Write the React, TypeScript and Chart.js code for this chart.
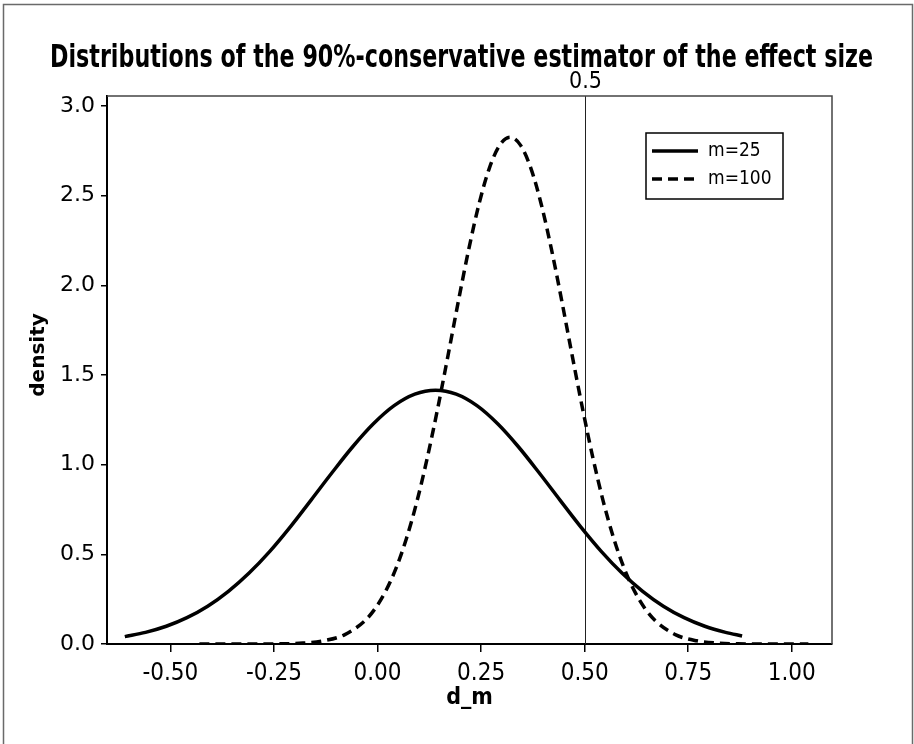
import React, { useEffect, useRef } from 'react';
import { Chart, registerables } from 'chart.js';

Chart.register(...registerables);

const titleText = 'Distributions of the 90%-conservative estimator of the effect size';
const xAxisLabel = 'd_m';
const yAxisLabel = 'density';
const seriesNames = ['m=25', 'm=100'];
const xTickValues = [-0.5, -0.25, 0, 0.25, 0.5, 0.75, 1.0];
const yTickValues = [0, 0.5, 1, 1.5, 2, 2.5, 3];
const refLineX = 0.5;
const refLineLabel = '0.5';

const m25X = [-0.61, -0.56, -0.51, -0.46, -0.41, -0.36, -0.31, -0.26, -0.21, -0.16, -0.11, -0.06, -0.01, 0.04, 0.09, 0.14, 0.19, 0.24, 0.29, 0.34, 0.39, 0.44, 0.49, 0.54, 0.59, 0.64, 0.69, 0.74, 0.79, 0.84, 0.88];
const m25Y = [0.041, 0.065, 0.099, 0.147, 0.211, 0.294, 0.396, 0.517, 0.655, 0.804, 0.955, 1.1, 1.228, 1.329, 1.393, 1.415, 1.393, 1.329, 1.228, 1.1, 0.955, 0.804, 0.655, 0.517, 0.396, 0.294, 0.211, 0.147, 0.099, 0.065, 0.045];

const m100X = [-0.43, -0.33, -0.23, -0.18, -0.13, -0.08, -0.03, -0.005, 0.02, 0.045, 0.07, 0.095, 0.12, 0.145, 0.17, 0.195, 0.22, 0.245, 0.27, 0.295, 0.32, 0.345, 0.37, 0.395, 0.42, 0.445, 0.47, 0.495, 0.52, 0.545, 0.57, 0.595, 0.62, 0.645, 0.67, 0.72, 0.77, 0.82, 0.87, 0.97, 1.04];
const m100Y = [0, 0, 0.001, 0.005, 0.018, 0.051, 0.131, 0.2, 0.296, 0.424, 0.59, 0.794, 1.037, 1.311, 1.607, 1.91, 2.199, 2.454, 2.654, 2.782, 2.826, 2.782, 2.654, 2.454, 2.199, 1.91, 1.607, 1.311, 1.037, 0.794, 0.59, 0.424, 0.296, 0.2, 0.131, 0.051, 0.018, 0.005, 0.001, 0, 0];

const X_MIN = -0.653;
const X_MAX = 1.097;
const Y_MIN = 0;
const Y_MAX = 3.056;

const NARROW = '"Liberation Sans Narrow", "DejaVu Sans Condensed", sans-serif';
const WIDE = '"DejaVu Sans", sans-serif';

const decorPlugin = {
  id: 'decor',
  beforeDatasetsDraw(chart: any) {
    const { ctx, chartArea, scales } = chart;
    const xs = scales.x;
    ctx.save();
    const px = Math.round(xs.getPixelForValue(refLineX)) + 0.5;
    ctx.strokeStyle = '#222';
    ctx.lineWidth = 1;
    ctx.beginPath();
    ctx.moveTo(px, chartArea.top);
    ctx.lineTo(px, chartArea.bottom);
    ctx.stroke();
    ctx.fillStyle = '#000';
    ctx.font = `23px ${NARROW}`;
    ctx.textAlign = 'center';
    ctx.textBaseline = 'alphabetic';
    ctx.fillText(refLineLabel, px, 88);
    ctx.strokeStyle = '#444';
    ctx.lineWidth = 1.5;
    ctx.beginPath();
    ctx.moveTo(chartArea.left, chartArea.top);
    ctx.lineTo(chartArea.right, chartArea.top);
    ctx.lineTo(chartArea.right, chartArea.bottom);
    ctx.stroke();
    ctx.restore();
  },
  afterDraw(chart: any) {
    const { ctx, chartArea, width } = chart;
    ctx.save();
    ctx.strokeStyle = '#6a6a6a';
    ctx.lineWidth = 1.5;
    ctx.beginPath();
    ctx.moveTo(3.5, chart.height);
    ctx.lineTo(3.5, 4.5);
    ctx.lineTo(width - 1.5, 4.5);
    ctx.lineTo(width - 1.5, chart.height);
    ctx.stroke();

    ctx.fillStyle = '#000';
    ctx.font = `bold 32px ${NARROW}`;
    ctx.textAlign = 'center';
    ctx.textBaseline = 'alphabetic';
    const w = ctx.measureText(titleText).width;
    const target = 823;
    ctx.save();
    ctx.translate(461.5, 67);
    ctx.scale(target / w, 1);
    ctx.fillText(titleText, 0, 0);
    ctx.restore();

    ctx.font = `bold 23px ${NARROW}`;
    ctx.textAlign = 'center';
    ctx.textBaseline = 'middle';
    ctx.fillText(xAxisLabel, (chartArea.left + chartArea.right) / 2, 698);

    ctx.save();
    ctx.translate(39, 355);
    ctx.rotate(-Math.PI / 2);
    ctx.font = `bold 20px ${WIDE}`;
    ctx.fillText(yAxisLabel, 0, 0);
    ctx.restore();

    const bx = 646, by = 133, bw = 137, bh = 66;
    ctx.fillStyle = '#fff';
    ctx.fillRect(bx, by, bw, bh);
    ctx.strokeStyle = '#000';
    ctx.lineWidth = 1.5;
    ctx.strokeRect(bx, by, bw, bh);
    ctx.lineWidth = 3.5;
    ctx.beginPath();
    ctx.moveTo(652, 151);
    ctx.lineTo(698, 151);
    ctx.stroke();
    ctx.setLineDash([10, 6]);
    ctx.beginPath();
    ctx.moveTo(652, 179);
    ctx.lineTo(698, 179);
    ctx.stroke();
    ctx.setLineDash([]);
    ctx.fillStyle = '#000';
    ctx.font = `19px ${NARROW}`;
    ctx.textAlign = 'left';
    ctx.textBaseline = 'middle';
    ctx.fillText(seriesNames[0], 708, 151);
    ctx.fillText(seriesNames[1], 708, 179);
    ctx.restore();
  },
};

export default function App() {
  const canvasRef = useRef<HTMLCanvasElement | null>(null);

  useEffect(() => {
    const canvas = canvasRef.current;
    if (!canvas) return;
    const chart = new Chart(canvas, {
      type: 'line',
      data: {
        datasets: [
          {
            label: seriesNames[0],
            data: m25X.map((x, i) => ({ x, y: m25Y[i] })),
            borderColor: '#000',
            borderWidth: 3.5,
            pointRadius: 0,
            fill: false,
            cubicInterpolationMode: 'monotone',
          },
          {
            label: seriesNames[1],
            data: m100X.map((x, i) => ({ x, y: m100Y[i] })),
            borderColor: '#000',
            borderWidth: 3.5,
            borderDash: [10, 6],
            pointRadius: 0,
            fill: false,
            cubicInterpolationMode: 'monotone',
          },
        ],
      },
      options: {
        responsive: false,
        animation: false,
        layout: { padding: { left: 0, top: 96, right: 82, bottom: 0 } },
        plugins: {
          legend: { display: false },
          title: { display: false },
          tooltip: { enabled: false },
        },
        scales: {
          x: {
            type: 'linear',
            min: X_MIN,
            max: X_MAX,
            afterBuildTicks: (scale: any) => {
              scale.ticks = xTickValues.map((v) => ({ value: v }));
            },
            afterFit: (scale: any) => {
              scale.height = 100;
            },
            grid: { display: true, drawOnChartArea: false, drawTicks: true, tickLength: 8, color: '#000', lineWidth: 1.5 },
            border: { display: true, color: '#000', width: 2 },
            ticks: {
              color: '#000',
              font: { family: NARROW, size: 24 },
              padding: 7,
              maxRotation: 0,
              autoSkip: false,
              callback: (v: any) => Number(v).toFixed(2),
            },
          },
          y: {
            type: 'linear',
            min: Y_MIN,
            max: Y_MAX,
            afterBuildTicks: (scale: any) => {
              scale.ticks = yTickValues.map((v) => ({ value: v }));
            },
            afterFit: (scale: any) => {
              scale.width = 107;
            },
            grid: { display: true, drawOnChartArea: false, drawTicks: true, tickLength: 6, color: '#000', lineWidth: 1.5 },
            border: { display: true, color: '#000', width: 2 },
            ticks: {
              color: '#000',
              font: { family: WIDE, size: 22 },
              padding: 6,
              autoSkip: false,
              callback: (v: any) => Number(v).toFixed(1),
            },
          },
        },
      },
      plugins: [decorPlugin],
    });
    return () => chart.destroy();
  }, []);

  return (
    <div style={{ position: 'fixed', left: 0, top: 0, width: 914, height: 744, background: '#fff' }}>
      <canvas ref={canvasRef} width={914} height={744} style={{ display: 'block', width: 914, height: 744 }} />
    </div>
  );
}
